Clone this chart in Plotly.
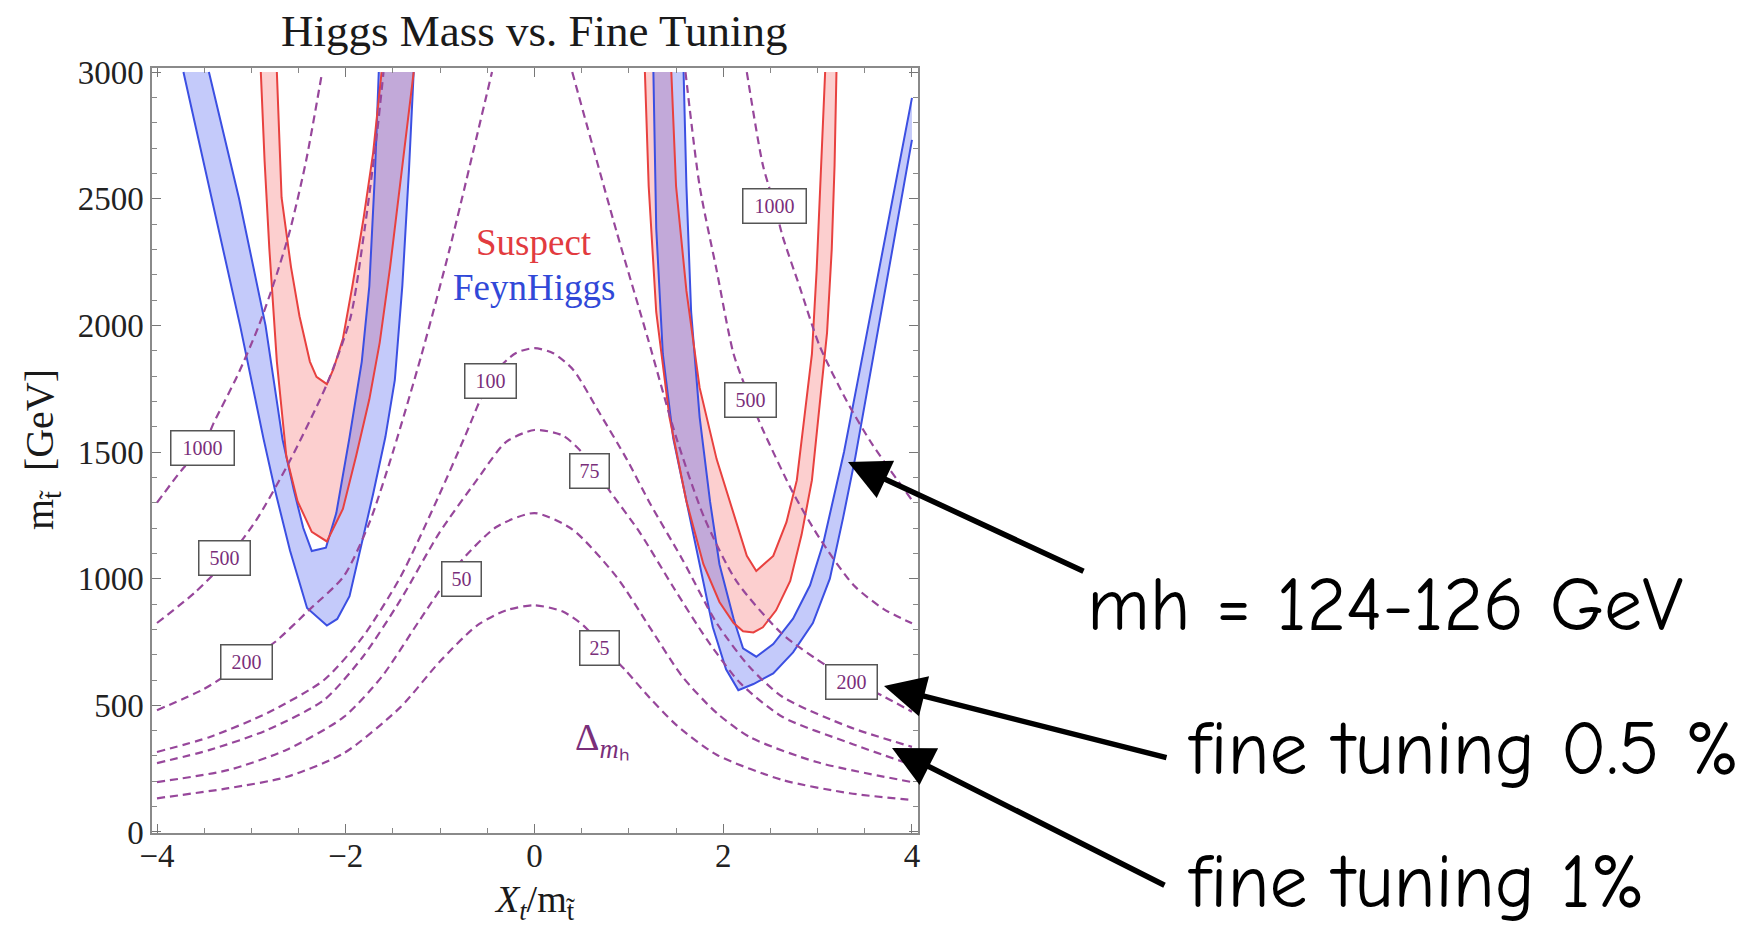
import plotly.graph_objects as go

# ---------------- fine-tuning contours (Delta_mh) ----------------
c25_x = [-4, -3.24, -2.63, -2.02, -1.42, -1.01, -0.61, -0.3, 0, 0.3, 0.52, 0.69, 0.96, 1.22, 1.51, 1.93, 2.63, 3.34, 4]
c25_y = [133, 173, 217, 311, 493, 670, 815, 875, 895, 870, 815, 745, 640, 530, 420, 305, 205, 153, 126]

c50_x = [-4, -3.24, -2.63, -2.02, -1.62, -1.21, -0.8, -0.4, 0, 0.4, 0.87, 1.22, 1.57, 1.93, 2.28, 2.99, 4]
c50_y = [197, 245, 324, 454, 612, 840, 1060, 1205, 1259, 1195, 1007, 809, 612, 470, 375, 276, 197]

c75_x = [-4, -3.44, -2.83, -2.23, -1.82, -1.42, -1.01, -0.61, -0.3, 0, 0.3, 0.55, 0.80, 1.12, 1.47, 1.83, 2.18, 2.63, 3.34, 4]
c75_y = [272, 324, 403, 521, 691, 916, 1180, 1390, 1540, 1587, 1565, 1480, 1345, 1180, 967, 758, 588, 454, 351, 265]

c100_x = [-4, -3.44, -2.83, -2.23, -1.82, -1.42, -1.01, -0.75, -0.45, -0.2, 0, 0.2, 0.41, 0.68, 0.98, 1.22, 1.57, 1.93, 2.28, 2.63, 3.34, 4]
c100_y = [316, 375, 470, 600, 770, 1007, 1330, 1550, 1800, 1890, 1910, 1890, 1825, 1660, 1470, 1300, 1074, 825, 651, 533, 414, 336]

c200L_x = [-4, -3.5, -3.05, -2.75, -2.39, -2.02, -1.75, -1.5, -1.2, -0.9, -0.45]
c200L_y = [481, 565, 673, 750, 876, 1010, 1220, 1500, 1880, 2300, 3000]
c200R_x = [0.40, 0.87, 1.20, 1.50, 1.80, 2.14, 2.63, 3.10, 3.36, 3.7, 4]
c200R_y = [3000, 2370, 1950, 1560, 1240, 990, 780, 655, 598, 535, 475]

c500L_x = [-4, -3.6, -3.28, -2.95, -2.6, -2.2, -1.95, -1.8, -1.67, -1.6]
c500L_y = [825, 945, 1066, 1230, 1460, 1768, 2030, 2380, 2754, 3000]
c500R_x = [1.60, 1.75, 1.93, 2.11, 2.29, 2.42, 2.74, 3.02, 3.38, 3.7, 4]
c500R_y = [3000, 2550, 2218, 1887, 1704, 1588, 1339, 1160, 975, 880, 824]

c1000L_x = [-4, -3.72, -3.52, -3.40, -3.15, -2.93, -2.75, -2.59, -2.42, -2.25]
c1000L_y = [1300, 1437, 1514, 1614, 1800, 1990, 2180, 2376, 2650, 3000]
c1000R_x = [2.25, 2.42, 2.55, 2.63, 2.81, 3.02, 3.31, 3.58, 4]
c1000R_y = [3000, 2633, 2467, 2351, 2152, 1920, 1700, 1530, 1310]

# contour labels
lab_text = ["1000", "500", "200", "100", "75", "50", "25", "1000", "500", "200"]
lab_x = [-3.52, -3.29, -3.05, -0.47, 0.58, -0.77, 0.69, 2.54, 2.29, 3.36]
lab_y = [1514, 1080, 673, 1780, 1425, 1000, 726, 2470, 1704, 593]

# ---------------- mh = 124-126 GeV bands ----------------
# FeynHiggs (blue), negative Xt
fhL_out_x = [-3.72, -3.42, -3.12, -2.87, -2.75, -2.59, -2.41, -2.20, -2.09, -1.96, -1.85, -1.71, -1.58, -1.48, -1.40, -1.33, -1.28]
fhL_out_y = [3000, 2500, 2000, 1550, 1350, 1110, 884, 815, 841, 931, 1109, 1334, 1559, 1784, 2158, 2613, 3000]
fhL_in_x = [-3.45, -3.13, -2.85, -2.67, -2.55, -2.45, -2.36, -2.21, -2.10, -2.03, -1.96, -1.83, -1.75, -1.69, -1.65]
fhL_in_y = [3000, 2500, 2000, 1550, 1350, 1200, 1109, 1122, 1259, 1409, 1558, 1857, 2155, 2605, 3000]
# Suspect (red), negative Xt
spL_out_x = [-2.90, -2.86, -2.81, -2.73, -2.63, -2.51, -2.36, -2.20, -2.03, -1.89, -1.75, -1.64, -1.53, -1.43, -1.33, -1.28]
spL_out_y = [3000, 2650, 2305, 1857, 1484, 1305, 1185, 1147, 1275, 1484, 1708, 1932, 2230, 2530, 2830, 3000]
spL_in_x = [-2.73, -2.68, -2.58, -2.49, -2.38, -2.31, -2.20, -2.13, -2.03, -1.93, -1.81, -1.71, -1.62]
spL_in_y = [3000, 2505, 2230, 2036, 1857, 1797, 1768, 1828, 1947, 2155, 2425, 2680, 3000]
# FeynHiggs (blue), positive Xt
fhR_out_x = [1.26, 1.29, 1.36, 1.47, 1.61, 1.75, 1.89, 2.03, 2.16, 2.32, 2.53, 2.74, 2.95, 3.13, 3.27, 3.40, 3.53, 3.66, 3.79, 3.90, 4.0]
fhR_out_y = [3000, 2384, 1887, 1555, 1306, 1057, 808, 642, 560, 584, 626, 709, 825, 1000, 1240, 1480, 1751, 2023, 2294, 2524, 2732]
fhR_in_x = [1.58, 1.61, 1.66, 1.75, 1.86, 1.96, 2.11, 2.21, 2.35, 2.53, 2.74, 2.92, 3.06, 3.16, 3.28, 3.42, 3.56, 3.70, 3.85, 4.0]
fhR_in_y = [3000, 2550, 2053, 1638, 1306, 1057, 842, 725, 692, 742, 842, 974, 1140, 1306, 1500, 1770, 2040, 2315, 2605, 2898]
# Suspect (red), positive Xt
spR_out_x = [1.17, 1.21, 1.29, 1.43, 1.61, 1.79, 1.96, 2.11, 2.21, 2.32, 2.42, 2.56, 2.71, 2.83, 2.94, 3.02, 3.10, 3.15, 3.18, 3.20]
spR_out_y = [3000, 2550, 2053, 1638, 1306, 1057, 908, 825, 792, 788, 808, 875, 991, 1173, 1389, 1671, 1970, 2301, 2633, 3000]
spR_in_x = [1.45, 1.50, 1.61, 1.75, 1.93, 2.11, 2.25, 2.35, 2.53, 2.67, 2.78, 2.86, 2.94, 2.99, 3.04, 3.08]
spR_in_y = [3000, 2550, 2136, 1754, 1472, 1256, 1090, 1030, 1090, 1223, 1389, 1638, 1887, 2218, 2633, 3000]

# side notes (text, left px, centre-y px) and arrows (tip px, tail px)
note_text = ["mh = 124-126 GeV", "fine tuning 0.5 %", "fine tuning 1%"]
note_px = [1085, 1186, 1186]
note_py = [605, 749, 882]
arrow_tip = [(848, 462), (884, 686), (892, 748)]
arrow_tail = [(1085, 572), (1168, 758), (1166, 886)]

# ---------------- figure ----------------
W, H = 1758, 931
L, R, T, B = 152, 918, 68, 833

def px2paper(px, py):
    return (px - L) / (R - L), (B - py) / (B - T)

RED_LINE = "#e8413f"
RED_FILL = "rgba(245,95,95,0.30)"
BLUE_LINE = "#3b4fe2"
BLUE_FILL = "rgba(70,90,240,0.32)"
PURPLE = "#97479b"
serif = "Liberation Serif"

fig = go.Figure()

def band(ox, oy, ix, iy, fillc):
    fig.add_trace(go.Scatter(x=ox + ix[::-1], y=oy + iy[::-1], fill="toself", fillcolor=fillc,
                             mode="lines", line=dict(width=0), hoverinfo="skip", showlegend=False))

band(spL_out_x, spL_out_y, spL_in_x, spL_in_y, RED_FILL)
band(spR_out_x, spR_out_y, spR_in_x, spR_in_y, RED_FILL)
band(fhL_out_x, fhL_out_y, fhL_in_x, fhL_in_y, BLUE_FILL)
band(fhR_out_x, fhR_out_y, fhR_in_x, fhR_in_y, BLUE_FILL)

for xs, ys, c in [(fhL_out_x, fhL_out_y, BLUE_LINE), (fhL_in_x, fhL_in_y, BLUE_LINE),
                  (fhR_out_x, fhR_out_y, BLUE_LINE), (fhR_in_x, fhR_in_y, BLUE_LINE),
                  (spL_out_x, spL_out_y, RED_LINE), (spL_in_x, spL_in_y, RED_LINE),
                  (spR_out_x, spR_out_y, RED_LINE), (spR_in_x, spR_in_y, RED_LINE)]:
    fig.add_trace(go.Scatter(x=xs, y=ys, mode="lines", line=dict(color=c, width=2),
                             hoverinfo="skip", showlegend=False))

for xs, ys in [(c25_x, c25_y), (c50_x, c50_y), (c75_x, c75_y), (c100_x, c100_y),
               (c200L_x, c200L_y), (c200R_x, c200R_y), (c500L_x, c500L_y), (c500R_x, c500R_y),
               (c1000L_x, c1000L_y), (c1000R_x, c1000R_y)]:
    fig.add_trace(go.Scatter(x=xs, y=ys, mode="lines",
                             line=dict(color=PURPLE, width=2.2, dash="8px,5px", shape="spline", smoothing=0.7),
                             hoverinfo="skip", showlegend=False))

ann = []
for t, x, y in zip(lab_text, lab_x, lab_y):
    w = 62 if len(t) == 4 else (50 if len(t) == 3 else 38)
    ann.append(dict(x=x, y=y, xref="x", yref="y", text=t, showarrow=False,
                    font=dict(family=serif, size=20, color="#7a2f7a"),
                    bgcolor="white", bordercolor="#555", borderwidth=1.5, borderpad=0,
                    width=w, height=33))

ann.append(dict(x=0.0, y=2329, xref="x", yref="y", text="Suspect", showarrow=False,
                xanchor="center", yanchor="middle",
                font=dict(family=serif, size=37, color="#e23b3f")))
ann.append(dict(x=0.0, y=2148, xref="x", yref="y", text="FeynHiggs", showarrow=False,
                xanchor="center", yanchor="middle",
                font=dict(family=serif, size=37, color="#3148d8")))
ann.append(dict(x=0.72, y=365, xref="x", yref="y", text="Δ<sub><i>m</i>ₕ</sub>", showarrow=False,
                xanchor="center", yanchor="middle",
                font=dict(family=serif, size=38, color="#7a2f7a")))

# title and axis titles
tx, ty = px2paper(534, 31)
ann.append(dict(x=tx, y=ty, xref="paper", yref="paper", text="Higgs Mass vs. Fine Tuning",
                xanchor="center", yanchor="middle",
                showarrow=False, font=dict(family=serif, size=45, color="#1a1a1a")))
tx, ty = px2paper(534, 902)
ann.append(dict(x=tx, y=ty, xref="paper", yref="paper",
                text="<i>X<sub>t</sub></i>/m<sub>t̃</sub>", xanchor="center", yanchor="middle",
                showarrow=False, font=dict(family=serif, size=38, color="#1a1a1a")))
tx, ty = px2paper(42, 450)
ann.append(dict(x=tx, y=ty, xref="paper", yref="paper", text="m<sub>t̃</sub>  [GeV]",
                xanchor="center", yanchor="middle",
                textangle=-90, showarrow=False, font=dict(family=serif, size=40, color="#1a1a1a")))

for t, px, py in zip(note_text, note_px, note_py):
    nx, ny = px2paper(px, py)
    ann.append(dict(x=nx, y=ny, xref="paper", yref="paper", text=t, showarrow=False,
                    xanchor="left", yanchor="middle",
                    font=dict(family="Comic Sans MS, Comic Neue, Noto Sans", size=76, color="black")))

for (hx, hy), (sx, sy) in zip(arrow_tip, arrow_tail):
    nx, ny = px2paper(hx, hy)
    ann.append(dict(x=nx, y=ny, xref="paper", yref="paper", text="", showarrow=True,
                    ax=sx - hx, ay=sy - hy, arrowhead=2, arrowsize=1.5, arrowwidth=5.5,
                    arrowcolor="black"))

axis_common = dict(showgrid=False, zeroline=False, showline=True, linecolor="#8a8a8a", linewidth=1.5,
                   mirror="allticks", ticks="inside", ticklen=9, tickwidth=1.2, tickcolor="#777",
                   tickfont=dict(family=serif, size=33, color="#222"))

fig.update_layout(
    width=W, height=H,
    margin=dict(l=L, r=W - R, t=T, b=H - B),
    plot_bgcolor="white", paper_bgcolor="white",
    showlegend=False,
    xaxis=dict(range=[-4.053, 4.064], tickvals=[-4, -2, 0, 2, 4], ticklabelstandoff=-7,
               minor=dict(dtick=0.5, tick0=0, ticks="inside", ticklen=5, tickcolor="#888"),
               **axis_common),
    yaxis=dict(range=[-4, 3016], tickvals=[0, 500, 1000, 1500, 2000, 2500, 3000],
               minor=dict(dtick=100, tick0=0, ticks="inside", ticklen=5, tickcolor="#888"),
               **axis_common),
    annotations=ann,
)

fig.write_html("out.html")
